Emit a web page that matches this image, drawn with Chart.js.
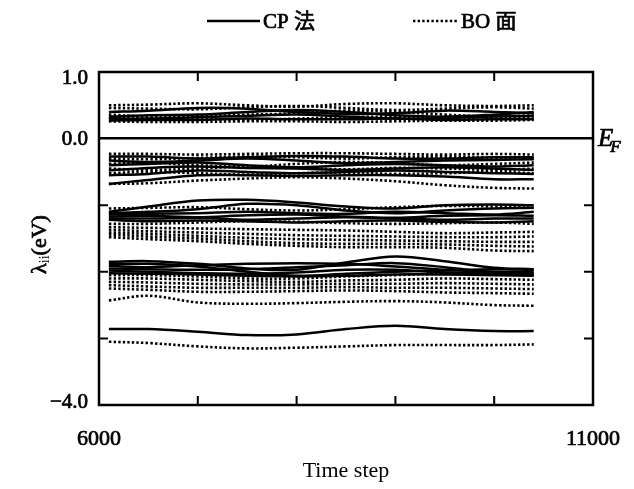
<!DOCTYPE html>
<html>
<head>
<meta charset="utf-8">
<script src="https://cdn.jsdelivr.net/npm/chart.js@4.4.1/dist/chart.umd.min.js"></script>
<style>
	html, body { margin: 0; padding: 0; background: #fff; }
</style>
</head>
<body>
<canvas id="chart" width="634" height="489"></canvas>
<script>
const timeSteps = [6100, 6500, 7000, 7500, 8000, 8500, 9000, 9500, 10000, 10400];

// levels above E_F
const cpBand1 = [
	[0.40, 0.42, 0.46, 0.45, 0.40, 0.37, 0.38, 0.42, 0.40, 0.38],
	[0.33, 0.35, 0.36, 0.40, 0.43, 0.40, 0.35, 0.33, 0.36, 0.40],
	[0.30, 0.30, 0.32, 0.34, 0.36, 0.33, 0.30, 0.31, 0.33, 0.34],
	[0.27, 0.28, 0.28, 0.30, 0.29, 0.29, 0.30, 0.28, 0.29, 0.29],
];
const boBand1 = [
	[0.50, 0.51, 0.53, 0.50, 0.48, 0.52, 0.53, 0.50, 0.49, 0.50],
	[0.46, 0.45, 0.44, 0.47, 0.49, 0.46, 0.43, 0.45, 0.47, 0.45],
	[0.36, 0.33, 0.34, 0.36, 0.38, 0.42, 0.40, 0.36, 0.33, 0.35],
	[0.31, 0.31, 0.30, 0.28, 0.30, 0.32, 0.33, 0.31, 0.30, 0.31],
	[0.26, 0.25, 0.25, 0.26, 0.26, 0.25, 0.26, 0.27, 0.27, 0.28],
];

// just below E_F
const cpBand2 = [
	[-0.27, -0.27, -0.30, -0.28, -0.26, -0.27, -0.30, -0.30, -0.28, -0.28],
	[-0.33, -0.35, -0.33, -0.30, -0.33, -0.37, -0.35, -0.33, -0.32, -0.31],
	[-0.40, -0.38, -0.36, -0.40, -0.43, -0.40, -0.38, -0.40, -0.42, -0.40],
	[-0.48, -0.44, -0.42, -0.44, -0.45, -0.47, -0.45, -0.43, -0.45, -0.47],
	[-0.55, -0.53, -0.48, -0.50, -0.52, -0.50, -0.48, -0.50, -0.52, -0.53],
	[-0.68, -0.62, -0.55, -0.55, -0.56, -0.55, -0.55, -0.57, -0.61, -0.61],
];
const boBand2 = [
	[-0.23, -0.23, -0.24, -0.23, -0.22, -0.22, -0.23, -0.24, -0.23, -0.24],
	[-0.30, -0.31, -0.29, -0.27, -0.28, -0.30, -0.28, -0.27, -0.29, -0.30],
	[-0.38, -0.36, -0.40, -0.42, -0.38, -0.35, -0.37, -0.40, -0.38, -0.36],
	[-0.45, -0.47, -0.45, -0.42, -0.44, -0.46, -0.44, -0.45, -0.47, -0.45],
	[-0.52, -0.50, -0.52, -0.54, -0.52, -0.51, -0.53, -0.52, -0.50, -0.52],
	[-0.68, -0.67, -0.63, -0.60, -0.58, -0.60, -0.64, -0.70, -0.74, -0.75],
];

// around -1 eV
const cpBand3 = [
	[-1.10, -1.02, -0.93, -0.92, -0.96, -1.02, -1.05, -1.00, -0.99, -1.00],
	[-1.12, -1.10, -1.06, -0.98, -1.00, -1.08, -1.12, -1.08, -1.05, -1.04],
	[-1.14, -1.13, -1.12, -1.10, -1.12, -1.13, -1.10, -1.12, -1.14, -1.10],
	[-1.17, -1.16, -1.18, -1.15, -1.14, -1.17, -1.19, -1.16, -1.15, -1.16],
	[-1.20, -1.20, -1.19, -1.22, -1.20, -1.18, -1.20, -1.22, -1.20, -1.20],
	[-1.22, -1.24, -1.23, -1.24, -1.26, -1.24, -1.23, -1.25, -1.26, -1.24],
];
const boBand3 = [
	[-1.05, -1.04, -1.03, -1.06, -1.08, -1.06, -1.03, -1.01, -1.02, -1.04],
	[-1.28, -1.28, -1.26, -1.24, -1.25, -1.27, -1.28, -1.27, -1.26, -1.28],
	[-1.33, -1.34, -1.35, -1.36, -1.37, -1.38, -1.40, -1.42, -1.41, -1.40],
	[-1.37, -1.39, -1.41, -1.43, -1.45, -1.46, -1.47, -1.48, -1.48, -1.47],
	[-1.41, -1.43, -1.46, -1.49, -1.51, -1.52, -1.53, -1.54, -1.55, -1.55],
	[-1.44, -1.47, -1.50, -1.54, -1.57, -1.58, -1.58, -1.59, -1.61, -1.62],
	[-1.48, -1.51, -1.54, -1.58, -1.61, -1.63, -1.63, -1.64, -1.68, -1.69],
];

// around -2 eV
const cpBand4 = [
	[-1.85, -1.84, -1.88, -1.95, -1.97, -1.86, -1.77, -1.84, -1.94, -1.96],
	[-1.88, -1.88, -1.92, -2.00, -2.06, -2.03, -2.00, -1.98, -1.96, -1.97],
	[-1.91, -1.93, -1.90, -1.88, -1.87, -1.88, -1.92, -1.97, -2.00, -2.00],
	[-1.95, -1.96, -1.97, -1.96, -1.93, -1.90, -1.87, -1.93, -2.01, -2.02],
	[-1.98, -2.00, -2.02, -2.03, -2.01, -1.97, -1.97, -2.01, -2.03, -2.04],
	[-2.02, -2.03, -2.04, -2.06, -2.07, -2.06, -2.04, -2.04, -2.05, -2.06],
];
const boBand4 = [
	[-2.05, -2.05, -2.07, -2.10, -2.10, -2.07, -2.05, -2.03, -2.04, -2.05],
	[-2.10, -2.10, -2.12, -2.14, -2.15, -2.13, -2.12, -2.10, -2.11, -2.12],
	[-2.15, -2.16, -2.18, -2.19, -2.19, -2.18, -2.18, -2.17, -2.18, -2.19],
	[-2.20, -2.22, -2.24, -2.24, -2.24, -2.23, -2.24, -2.24, -2.25, -2.26],
	[-2.25, -2.27, -2.30, -2.30, -2.29, -2.28, -2.29, -2.31, -2.32, -2.33],
	[-2.43, -2.36, -2.46, -2.48, -2.47, -2.45, -2.44, -2.46, -2.50, -2.51],
];

// lowest level
const cpBand5 = [
	[-2.86, -2.86, -2.90, -2.95, -2.94, -2.86, -2.81, -2.86, -2.89, -2.89],
];
const boBand5 = [
	[-3.05, -3.07, -3.12, -3.15, -3.14, -3.12, -3.10, -3.10, -3.10, -3.09],
];

const xLabelled = [6000, 11000];
const yTickValues = [1, 0, -4];
const yTickLabels = ["1.0", "0.0", "−4.0"];
const xInnerTicks = [7000, 8000, 9000, 10000];
const yInnerTicks = [-1, -2, -3];
const legendItems = ["CP 法", "BO 面"];

const serif = "'Liberation Serif', 'Times New Roman', 'Noto Sans CJK JP', serif";

const toPoints = vals => vals.map((y, i) => ({ x: timeSteps[i], y }));

const cpSet = vals => ({
	data: toPoints(vals),
	borderColor: "#000",
	borderWidth: 2.5,
	tension: 0.35,
	pointRadius: 0,
});

const boSet = vals => ({
	data: toPoints(vals),
	borderColor: "#000",
	borderWidth: 2.6,
	borderDash: [2.4, 2.2],
	tension: 0.35,
	pointRadius: 0,
});

const datasets = [
	...[...cpBand1, ...cpBand2, ...cpBand3, ...cpBand4, ...cpBand5].map(cpSet),
	...[...boBand1, ...boBand2, ...boBand3, ...boBand4, ...boBand5].map(boSet),
];

// regular serif with a thin outline, closer to the scanned weight
const heavyText = (ctx, text, x, y) => {
	ctx.fillText(text, x, y);
	ctx.strokeText(text, x, y);
};

const frame = {
	id: "frame",
	afterDraw(chart) {
		const { ctx, chartArea: a, scales: { x, y } } = chart;
		ctx.save();
		ctx.strokeStyle = "#000";
		ctx.fillStyle = "#000";
		ctx.lineWidth = 2.5;
		ctx.strokeRect(a.left, a.top, a.width, a.height);

		// ticks point inwards on all four sides
		ctx.lineWidth = 2;
		ctx.beginPath();
		xInnerTicks.forEach(v => {
			const px = x.getPixelForValue(v);
			ctx.moveTo(px, a.bottom);
			ctx.lineTo(px, a.bottom - 9);
			ctx.moveTo(px, a.top);
			ctx.lineTo(px, a.top + 9);
		});
		yInnerTicks.forEach(v => {
			const py = y.getPixelForValue(v);
			ctx.moveTo(a.left, py);
			ctx.lineTo(a.left + 9, py);
			ctx.moveTo(a.right, py);
			ctx.lineTo(a.right - 9, py);
		});
		ctx.stroke();

		ctx.lineWidth = 0.7;

		// y tick labels, end ones pulled inside the frame a little
		ctx.font = `21px ${serif}`;
		ctx.textAlign = "right";
		ctx.textBaseline = "middle";
		yTickValues.forEach((v, i) => {
			const py = Math.min(Math.max(y.getPixelForValue(v), a.top + 5), a.bottom - 4);
			heavyText(ctx, yTickLabels[i], a.left - 11, py + 1);
		});

		// E_F label
		const y0 = y.getPixelForValue(0);
		ctx.textAlign = "left";
		ctx.textBaseline = "alphabetic";
		ctx.font = `italic 25px ${serif}`;
		heavyText(ctx, "E", a.right + 5, y0 + 7);
		const wE = ctx.measureText("E").width;
		ctx.font = `italic 17px ${serif}`;
		heavyText(ctx, "F", a.right + 2 + wE, y0 + 13);

		// y title with subscript
		ctx.translate(40, (a.top + a.bottom) / 2 + 6);
		ctx.rotate(-Math.PI / 2);
		ctx.textBaseline = "middle";
		ctx.font = `22px ${serif}`;
		const wL = ctx.measureText("λ").width;
		const wP = ctx.measureText("(eV)").width;
		ctx.font = `14px ${serif}`;
		const wS = ctx.measureText("ii").width;
		const tx = -(wL + wS + wP) / 2;
		ctx.font = `22px ${serif}`;
		heavyText(ctx, "λ", tx, 0);
		ctx.font = `14px ${serif}`;
		ctx.fillText("ii", tx + wL, 5);
		ctx.font = `22px ${serif}`;
		heavyText(ctx, "(eV)", tx + wL + wS, 0);
		ctx.restore();

		// legend
		ctx.save();
		ctx.strokeStyle = "#000";
		ctx.fillStyle = "#000";
		ctx.lineWidth = 2.5;
		ctx.beginPath();
		ctx.moveTo(207, 21);
		ctx.lineTo(260, 21);
		ctx.stroke();
		ctx.setLineDash([2.4, 2.2]);
		ctx.lineWidth = 2.6;
		ctx.beginPath();
		ctx.moveTo(413, 21);
		ctx.lineTo(457, 21);
		ctx.stroke();
		ctx.setLineDash([]);
		ctx.lineWidth = 0.7;
		ctx.font = `21px ${serif}`;
		ctx.textBaseline = "middle";
		heavyText(ctx, legendItems[0], 263, 22);
		heavyText(ctx, legendItems[1], 461, 22);
		ctx.restore();
	},
};

new Chart(document.getElementById("chart"), {
	type: "line",
	data: { datasets },
	plugins: [frame],
	options: {
		responsive: false,
		animation: false,
		layout: { padding: { top: 72, right: 41, left: 0, bottom: 0 } },
		plugins: {
			legend: { display: false },
			tooltip: { enabled: false },
		},
		scales: {
			x: {
				type: "linear",
				min: 6000,
				max: 11000,
				afterFit: scale => (scale.height = 84),
				border: { display: false },
				grid: { display: false },
				ticks: {
					stepSize: 1000,
					autoSkip: false,
					maxRotation: 0,
					padding: 13,
					color: "#000",
					textStrokeColor: "#000",
					textStrokeWidth: 0.7,
					font: { family: serif, size: 22 },
					callback: v => (xLabelled.includes(v) ? String(v) : ""),
				},
				title: {
					display: true,
					text: "Time step",
					color: "#000",
					font: { family: serif, size: 22 },
					padding: { top: 0, bottom: 5 },
				},
			},
			y: {
				min: -4,
				max: 1,
				afterFit: scale => (scale.width = 99),
				border: { display: false },
				grid: {
					drawTicks: false,
					lineWidth: 2.5,
					color: ctx => (ctx.tick && ctx.tick.value === 0 ? "#000" : "rgba(0,0,0,0)"),
				},
				ticks: {
					stepSize: 1,
					display: false,
				},
			},
		},
	},
});
</script>
</body>
</html>
